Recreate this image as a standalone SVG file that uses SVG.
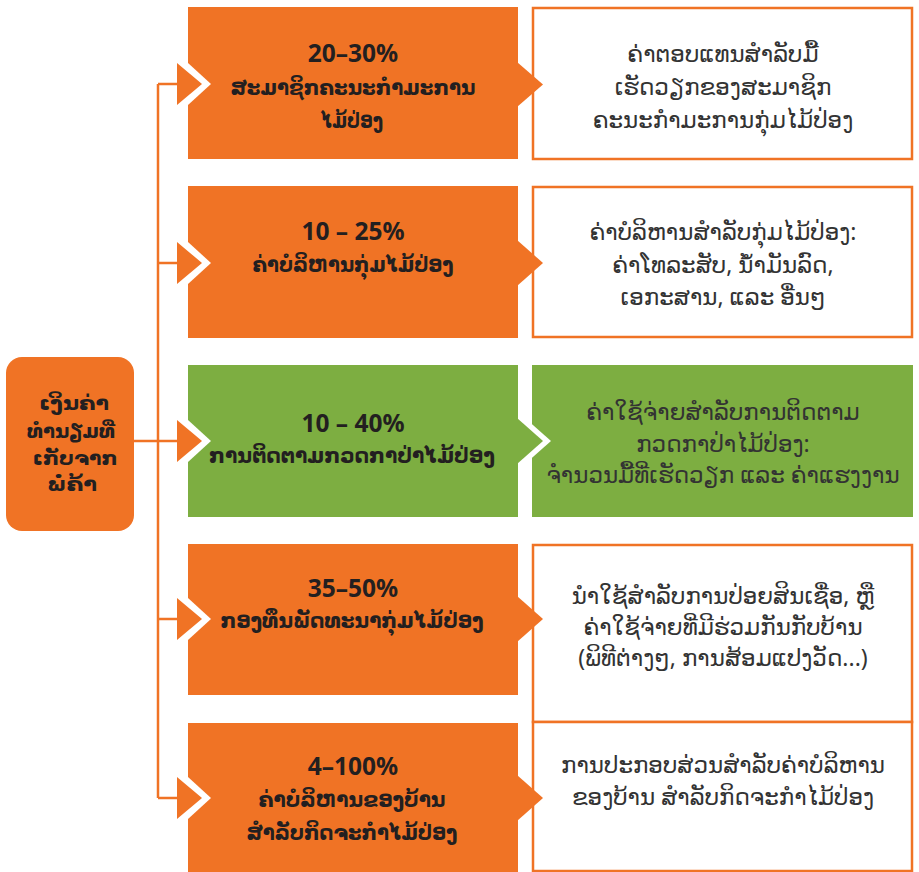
<svg xmlns="http://www.w3.org/2000/svg" width="919" height="872" viewBox="0 0 919 872">
<style>
.or{fill:#F07325}
.gr{fill:#7DAE41}
.wh{fill:#FFFFFF}
.rb{fill:#FFFFFF;stroke:#F07325;stroke-width:2.5}
.ln{stroke:#F07325;stroke-width:2.5;fill:none}
text{font-family:"Noto Sans","DejaVu Sans",sans-serif;text-anchor:middle}
.t{font-weight:bold;font-size:22px;fill:#231F20}
.n{font-weight:bold;font-size:24.5px;fill:#231F20}
.d{font-size:23px;fill:#333333}
.m{font-weight:bold;font-size:20px;fill:#231F20}
</style>
<rect width="919" height="872" fill="#FFFFFF"/>

<g id="connectors">
<path class="ln" d="M158 84 V798"/>
<path class="ln" d="M158 84 H180 M158 263 H180 M134 441 H180 M158 619 H180 M158 798 H180"/>
</g>

<g id="source">
<rect class="or" x="6" y="357" width="128" height="174" rx="16"/>
<text class="m" x="74" y="410" textLength="70" lengthAdjust="spacingAndGlyphs">ເງິນຄ່າ</text>
<text class="m" x="71" y="438" textLength="88" lengthAdjust="spacingAndGlyphs">ທຳນຽມທີ່</text>
<text class="m" x="75" y="465" textLength="85" lengthAdjust="spacingAndGlyphs">ເກັບຈາກ</text>
<text class="m" x="72" y="491" textLength="50" lengthAdjust="spacingAndGlyphs">ພໍ່ຄ້າ</text>
</g>

<g id="desc1">
<rect class="rb" x="533" y="8" width="379" height="151"/>
<text class="d" x="723" y="62">ຄ່າຕອບແທນສຳລັບມື້</text>
<text class="d" x="723" y="95">ເຮັດວຽກຂອງສະມາຊິກ</text>
<text class="d" x="723" y="128">ຄະນະກຳມະການກຸ່ມໄມ້ປ່ອງ</text>
</g>
<g id="share1">
<rect class="or" x="188" y="7" width="330" height="152"/>
<polygon class="wh" points="188,63 188,105 211,84"/>
<polygon class="or" points="177,63 177,105 202,84"/>
<polygon class="or" points="517,62 517,107 543,84.5"/>
<text class="n" x="353" y="62">20–30%</text>
<text class="t" x="353" y="95" textLength="245" lengthAdjust="spacingAndGlyphs">ສະມາຊິກຄະນະກຳມະການ</text>
<text class="t" x="352" y="128" textLength="62" lengthAdjust="spacingAndGlyphs">ໄມ້ປ່ອງ</text>
</g>

<g id="desc2">
<rect class="rb" x="533" y="187" width="379" height="150"/>
<text class="d" x="723" y="240">ຄ່າບໍລິຫານສຳລັບກຸ່ມໄມ້ປ່ອງ:</text>
<text class="d" x="723" y="273">ຄ່າໂທລະສັບ, ນ້ຳມັນລົດ,</text>
<text class="d" x="723" y="305">ເອກະສານ, ແລະ ອື່ນໆ</text>
</g>
<g id="share2">
<rect class="or" x="188" y="186" width="330" height="152"/>
<polygon class="wh" points="188,242 188,284 211,263"/>
<polygon class="or" points="177,242 177,284 202,263"/>
<polygon class="or" points="517,240 517,286 543,263"/>
<text class="n" x="353" y="240">10 – 25%</text>
<text class="t" x="353" y="272" textLength="201" lengthAdjust="spacingAndGlyphs">ຄ່າບໍລິຫານກຸ່ມໄມ້ປ່ອງ</text>
</g>

<g id="desc3">
<rect class="gr" x="532" y="365" width="381" height="152"/>
<text class="d" x="723" y="420">ຄ່າໃຊ້ຈ່າຍສຳລັບການຕິດຕາມ</text>
<text class="d" x="723" y="452">ກວດກາປ່າໄມ້ປ່ອງ:</text>
<text class="d" x="723" y="483">ຈຳນວນມື້ທີ່ເຮັດວຽກ ແລະ ຄ່າແຮງງານ</text>
</g>
<g id="share3">
<rect class="gr" x="188" y="365" width="330" height="152"/>
<polygon class="wh" points="188,420 188,462 211,441"/>
<polygon class="or" points="177,420 177,462 202,441"/>
<polygon class="wh" points="525,418 525,464 551,441"/>
<polygon class="gr" points="517,418 517,464 543,441"/>
<text class="n" x="353" y="432">10 – 40%</text>
<text class="t" x="352" y="463" textLength="286" lengthAdjust="spacingAndGlyphs">ການຕິດຕາມກວດກາປ່າໄມ້ປ່ອງ</text>
</g>

<g id="desc4">
<rect class="rb" x="533" y="545" width="379" height="177"/>
<text class="d" x="723" y="604">ນຳໃຊ້ສຳລັບການປ່ອຍສິນເຊື່ອ, ຫຼື</text>
<text class="d" x="723" y="635">ຄ່າໃຊ້ຈ່າຍທີ່ມີຮ່ວມກັນກັບບ້ານ</text>
<text class="d" x="723" y="666">(ພິທີຕ່າງໆ, ການສ້ອມແປງວັດ...)</text>
</g>
<g id="share4">
<rect class="or" x="188" y="544" width="330" height="151"/>
<polygon class="wh" points="188,598 188,640 211,619"/>
<polygon class="or" points="177,598 177,640 202,619"/>
<polygon class="or" points="517,596 517,642 543,619"/>
<text class="n" x="353" y="597">35–50%</text>
<text class="t" x="352" y="628" textLength="263" lengthAdjust="spacingAndGlyphs">ກອງທຶນພັດທະນາກຸ່ມໄມ້ປ່ອງ</text>
</g>

<g id="desc5">
<rect class="rb" x="533" y="722" width="379" height="149"/>
<text class="d" x="723" y="773">ການປະກອບສ່ວນສຳລັບຄ່າບໍລິຫານ</text>
<text class="d" x="723" y="805">ຂອງບ້ານ ສຳລັບກິດຈະກຳໄມ້ປ່ອງ</text>
</g>
<g id="share5">
<rect class="or" x="188" y="723" width="330" height="149"/>
<polygon class="wh" points="188,777 188,819 211,798"/>
<polygon class="or" points="177,777 177,819 202,798"/>
<polygon class="or" points="517,775 517,821 543,798"/>
<text class="n" x="353" y="775">4–100%</text>
<text class="t" x="352" y="807" textLength="187" lengthAdjust="spacingAndGlyphs">ຄ່າບໍລິຫານຂອງບ້ານ</text>
<text class="t" x="352" y="840" textLength="211" lengthAdjust="spacingAndGlyphs">ສຳລັບກິດຈະກຳໄມ້ປ່ອງ</text>
</g>
</svg>
